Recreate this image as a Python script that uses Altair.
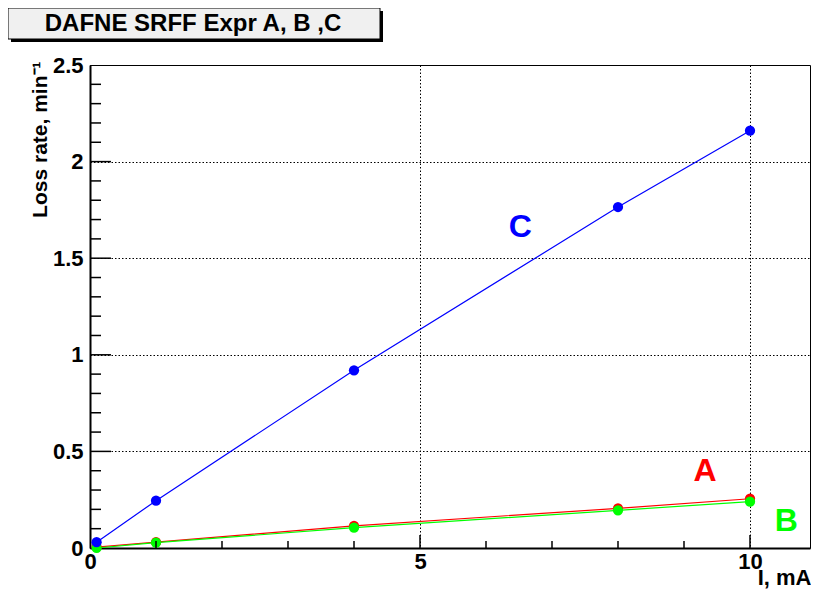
import altair as alt
import pandas as pd

# ---- data ----
current_ma = [0.1, 1, 4, 8, 10]
loss_a = [0.005, 0.03, 0.115, 0.205, 0.255]
loss_b = [0.0, 0.028, 0.105, 0.195, 0.24]
loss_c = [0.03, 0.245, 0.92, 1.765, 2.16]

series_names = ["A", "B", "C"]
series_colors = ["#ff0000", "#00ff00", "#0000ff"]

label_text = ["A", "B", "C"]
label_x = [9.32, 10.55, 6.52]
label_y = [0.40, 0.14, 1.66]

x_major = [0, 5, 10]
y_major = [0, 0.5, 1, 1.5, 2, 2.5]
x_minor = [1, 2, 3, 4, 6, 7, 8, 9]
x_major_ticks = [5, 10]
y_minor = [round(0.1 * i, 1) for i in range(1, 25) if i % 5 != 0]
y_major_ticks = [0.5, 1.0, 1.5, 2.0]

title_text = "DAFNE SRFF Expr A, B ,C"

W, H = 720, 483
FONT = "Liberation Sans"

rows = []
for name, vals in zip(series_names, [loss_a, loss_b, loss_c]):
    for xv, yv in zip(current_ma, vals):
        rows.append({"I": xv, "loss": yv, "series": name})
df = pd.DataFrame(rows)
labels_df = pd.DataFrame({"text": label_text, "x": label_x, "y": label_y})

xscale = alt.Scale(domain=[0, W / 66.0], nice=False, zero=False)
yscale = alt.Scale(domain=[0, 2.5], nice=False, zero=False)
cscale = alt.Scale(domain=series_names, range=series_colors)

x_axis = alt.Axis(values=x_major, format="~g", title="I, mA", grid=True,
                  gridColor="black", gridDash=[1.5, 2], gridWidth=1, gridOpacity=1,
                  ticks=False, domainColor="black", domainWidth=2,
                  labelFont=FONT, labelFontSize=22, labelFontWeight="bold",
                  labelColor="black", labelPadding=3, labelFlush=False,
                  titleFont=FONT, titleFontSize=22, titleFontWeight="bold",
                  titleColor="black", titleAnchor="end", titleAlign="right",
                  titleX=W + 1, titleY=36, titleBaseline="alphabetic")
y_axis = alt.Axis(values=y_major, format="~g", title="Loss rate, min\u207b\u00b9",
                  grid=True, gridColor="black", gridDash=[1.5, 2], gridWidth=1,
                  gridOpacity=1, ticks=False, domainColor="black", domainWidth=2,
                  labelFont=FONT, labelFontSize=22, labelFontWeight="bold",
                  labelColor="black", labelPadding=7, labelFlush=False,
                  titleFont=FONT, titleFontSize=21, titleFontWeight="bold",
                  titleColor="black", titleAnchor="end", titleAlign="right",
                  titleAngle=270, titleX=-44, titleY=-4, titleBaseline="alphabetic")

base = alt.Chart(df)

lines = base.mark_line(strokeWidth=1.2).encode(
    x=alt.X("I:Q", scale=xscale, axis=x_axis),
    y=alt.Y("loss:Q", scale=yscale, axis=y_axis),
    color=alt.Color("series:N", scale=cscale, legend=None),
    detail="series:N",
)
points = base.mark_circle(size=105, opacity=1).encode(
    x=alt.X("I:Q", scale=xscale),
    y=alt.Y("loss:Q", scale=yscale),
    color=alt.Color("series:N", scale=cscale, legend=None),
    order=alt.Order("series:N"),
)
labels = alt.Chart(labels_df).mark_text(font=FONT, fontSize=32, fontWeight="bold",
                                        baseline="middle", align="center").encode(
    x=alt.X("x:Q", scale=xscale),
    y=alt.Y("y:Q", scale=yscale),
    text="text:N",
    color=alt.Color("text:N", scale=cscale, legend=None),
)

# inward tick marks
xminor = alt.Chart(pd.DataFrame({"t": x_minor})).mark_rule(color="black", strokeWidth=1.5).encode(
    x=alt.X("t:Q", scale=xscale), y=alt.value(H), y2=alt.value(H - 7))
xmajor = alt.Chart(pd.DataFrame({"t": x_major_ticks})).mark_rule(color="black", strokeWidth=1.5).encode(
    x=alt.X("t:Q", scale=xscale), y=alt.value(H), y2=alt.value(H - 13))
yminor = alt.Chart(pd.DataFrame({"t": y_minor})).mark_rule(color="black", strokeWidth=1.5).encode(
    y=alt.Y("t:Q", scale=yscale), x=alt.value(0), x2=alt.value(11))
ymajor = alt.Chart(pd.DataFrame({"t": y_major_ticks})).mark_rule(color="black", strokeWidth=1.5).encode(
    y=alt.Y("t:Q", scale=yscale), x=alt.value(0), x2=alt.value(21))

# title box (ROOT style pave with shadow)
one = pd.DataFrame({"k": [0]})
shadow = alt.Chart(one).mark_rect(color="black").encode(
    x=alt.value(-79), x2=alt.value(293), y=alt.value(-54), y2=alt.value(-23))
box = alt.Chart(one).mark_rect(fill="#f0f0f0", stroke="black", strokeWidth=1).encode(
    x=alt.value(-82), x2=alt.value(290), y=alt.value(-57), y2=alt.value(-26))
title = alt.Chart(one).mark_text(text=title_text, font=FONT, fontSize=24, fontWeight="bold",
                                 align="center", baseline="middle", color="black").encode(
    x=alt.value(103), y=alt.value(-41))

chart = alt.layer(
    shadow, box, title, lines, points, labels, xminor, xmajor, yminor, ymajor
).properties(
    width=W, height=H,
    autosize=alt.AutoSizeParams(type="none"),
    padding={"left": 82, "top": 57, "right": 1, "bottom": 43},
    background="white",
).configure_view(stroke="black", strokeWidth=1)

chart.save("out.html", embed_options={"renderer": "svg", "actions": False})
